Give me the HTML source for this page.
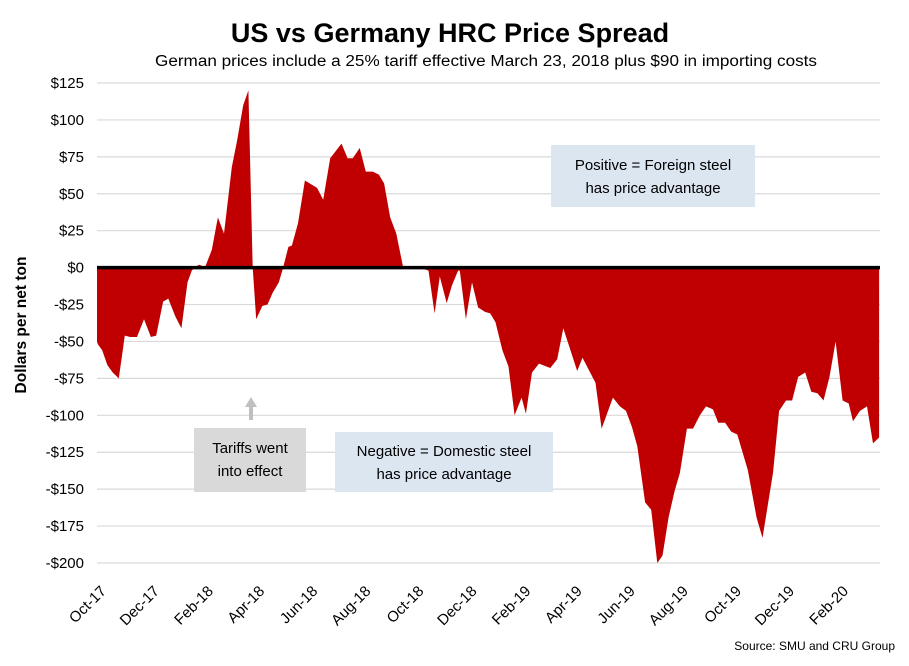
<!DOCTYPE html>
<html><head><meta charset="utf-8"><style>
body{margin:0;background:#fff;}
svg text{font-family:"Liberation Sans",sans-serif;}
</style></head><body>
<svg id="chart" width="909" height="661" xmlns="http://www.w3.org/2000/svg">
<text x="450" y="42" text-anchor="middle" font-size="27" font-weight="bold" fill="#000">US vs Germany HRC Price Spread</text>
<text x="486" y="66" text-anchor="middle" font-size="15.5" fill="#000" textLength="662" lengthAdjust="spacingAndGlyphs">German prices include a 25% tariff effective March 23, 2018 plus $90 in importing costs</text>
<text transform="translate(26,325) rotate(-90)" text-anchor="middle" font-size="15.5" font-weight="bold">Dollars per net ton</text>
<g id="grid"></g><g id="area"></g><g id="axes"></g>
<g>
<rect x="551" y="145" width="204" height="62" fill="#dce6f1"/>
<text x="653" y="170" text-anchor="middle" font-size="15">Positive = Foreign steel</text>
<text x="653" y="193" text-anchor="middle" font-size="15">has price advantage</text></g>
<g>
<rect x="335" y="432" width="218" height="60" fill="#dce6f1"/>
<text x="444" y="456" text-anchor="middle" font-size="15">Negative = Domestic steel</text>
<text x="444" y="479" text-anchor="middle" font-size="15">has price advantage</text></g>
<g>
<rect x="194" y="428" width="112" height="64" fill="#d9d9d9"/>
<text x="250" y="453" text-anchor="middle" font-size="15">Tariffs went</text>
<text x="250" y="476" text-anchor="middle" font-size="15">into effect</text>
<line x1="251" y1="420" x2="251" y2="406" stroke="#bfbfbf" stroke-width="4"/>
<polygon points="245,407 257,407 251,397" fill="#bfbfbf"/></g>
<text x="895" y="650" text-anchor="end" font-size="12">Source: SMU and CRU Group</text>
</svg>
<script>
const days=[0,1,6,12,18,25,32,38,46,54,62,68,76,82,90,97,104,109,114,118,124,132,139,146,155,161,168,174,179,183,190,196,202,209,213,220,224,231,239,253,260,268,281,288,294,302,309,317,324,330,337,344,352,371,381,388,394,402,408,415,417,424,431,438,446,452,458,466,473,480,488,493,500,508,521,529,536,552,558,573,580,593,601,608,615,621,630,637,644,650,657,664,670,678,685,693,700,708,714,722,729,736,748,758,765,777,784,792,799,806,814,821,828,835,842,849,857,864,869,877,885,892,899];
const values=[-50,-52,-56,-66,-71,-75,-46,-47,-47,-35,-47,-46,-23,-21,-33,-41,-10,-2,1,2,0,12,34,23,68,86,110,120,0,-35,-26,-25,-17,-10,-2,14,15,30,59,54,46,74,84,74,74,81,65,65,63,57,34,23,0,0,-2,-31,-6,-24,-12,-2,-2,-35,-10,-27,-30,-31,-37,-56,-67,-100,-88,-99,-71,-65,-68,-62,-41,-70,-61,-78,-109,-88,-94,-97,-108,-121,-159,-164,-200,-195,-169,-151,-139,-109,-109,-100,-94,-96,-105,-105,-111,-113,-137,-169,-183,-139,-97,-90,-90,-74,-71,-84,-85,-90,-74,-50,-90,-92,-104,-97,-94,-119,-115];
const yTicks=[125,100,75,50,25,0,-25,-50,-75,-100,-125,-150,-175,-200];
const monthLabels=["Oct-17","Dec-17","Feb-18","Apr-18","Jun-18","Aug-18","Oct-18","Dec-18","Feb-19","Apr-19","Jun-19","Aug-19","Oct-19","Dec-19","Feb-20"];
const monthDays=[0,61,123,182,243,304,365,426,488,547,608,669,730,791,853];
const NS="http://www.w3.org/2000/svg";
const X0=97,X1=880,D1=900,YT=83,YB=563,VMAX=125,VMIN=-200;
const xs=d=>X0+d*(X1-X0)/D1;
const ys=v=>YT+(VMAX-v)*(YB-YT)/(VMAX-VMIN);
function mk(tag,attrs,parent){const e=document.createElementNS(NS,tag);for(const k in attrs)e.setAttribute(k,attrs[k]);parent.appendChild(e);return e;}
const grid=document.getElementById('grid'),area=document.getElementById('area'),axes=document.getElementById('axes');
yTicks.forEach(t=>{
  const l=mk('line',{x1:X0,x2:X1,y1:ys(t),y2:ys(t),stroke:'#d9d9d9','stroke-width':1.2},grid);
  
  
  const tx=mk('text',{x:84,y:ys(t)+5,'text-anchor':'end','font-size':15},axes);
  tx.textContent=(t<0?'-$':'$')+Math.abs(t);
  
  
});
let d='M'+xs(days[0])+','+ys(0);
days.forEach((dd,i)=>{d+=' L'+xs(dd).toFixed(1)+','+ys(values[i]).toFixed(1);});
d+=' L'+xs(days[days.length-1])+','+ys(0)+' Z';
const p=mk('path',{d:d,fill:'#c00000'},area);


const z=mk('line',{x1:X0,x2:X1,y1:ys(0),y2:ys(0),stroke:'#000','stroke-width':3.5},axes);


monthLabels.forEach((m,i)=>{
  const x=xs(monthDays[i])+10;
  const t=mk('text',{x:x,y:592,'text-anchor':'end','font-size':15,transform:'rotate(-45 '+x+' 592)'},axes);
  t.textContent=m;
  
  
});
</script>
</body></html>
